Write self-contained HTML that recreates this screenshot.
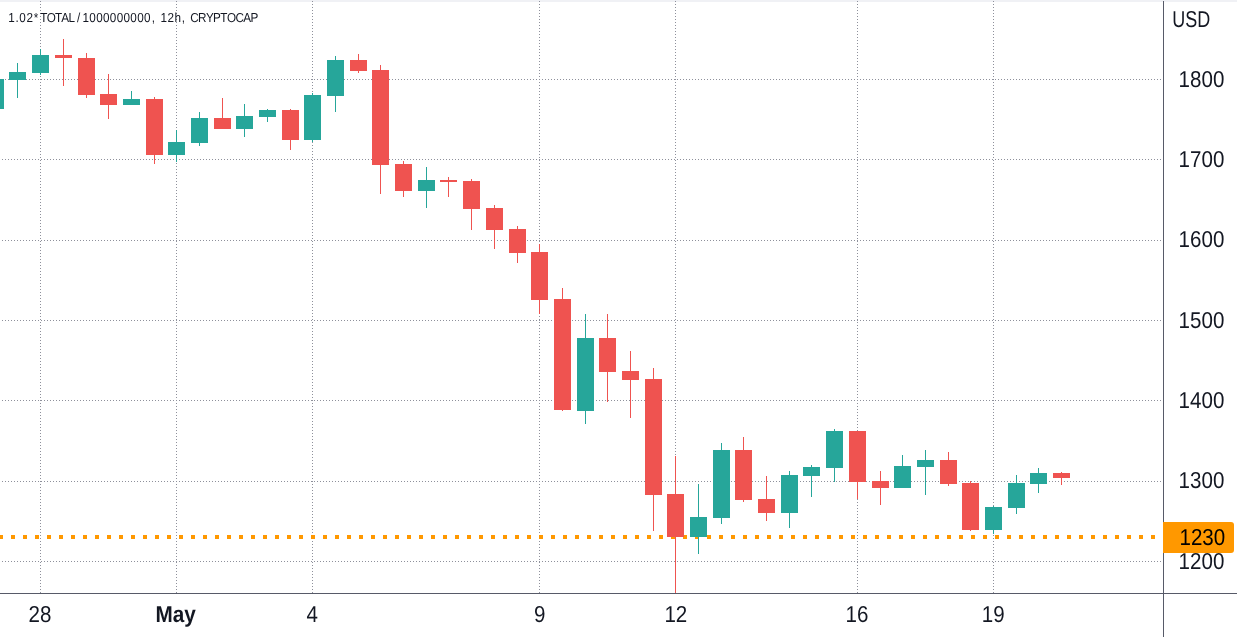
<!DOCTYPE html>
<html><head><meta charset="utf-8"><title>chart</title>
<style>
html,body{margin:0;padding:0;background:#fff;}
body{width:1237px;height:637px;overflow:hidden;}
svg{display:block;}
text{font-family:"Liberation Sans",sans-serif;fill:#131722;text-rendering:geometricPrecision;}
</style></head><body>
<svg width="1237" height="637" viewBox="0 0 1237 637">
<rect x="0" y="0" width="1237" height="637" fill="#ffffff"/>
<rect x="0" y="0" width="1237" height="2" fill="#f0f1f5" shape-rendering="crispEdges"/>
<g stroke="#8e909b" stroke-width="1" stroke-dasharray="1 2" shape-rendering="crispEdges" fill="none">
<line x1="2" y1="79.5" x2="1162" y2="79.5"/>
<line x1="2" y1="159.5" x2="1162" y2="159.5"/>
<line x1="2" y1="240.5" x2="1162" y2="240.5"/>
<line x1="2" y1="320.5" x2="1162" y2="320.5"/>
<line x1="2" y1="400.5" x2="1162" y2="400.5"/>
<line x1="2" y1="481.5" x2="1162" y2="481.5"/>
<line x1="2" y1="561.5" x2="1162" y2="561.5"/>
<line x1="40.5" y1="1" x2="40.5" y2="593"/>
<line x1="176.5" y1="1" x2="176.5" y2="593"/>
<line x1="312.5" y1="1" x2="312.5" y2="593"/>
<line x1="539.5" y1="1" x2="539.5" y2="593"/>
<line x1="675.5" y1="1" x2="675.5" y2="593"/>
<line x1="857.5" y1="1" x2="857.5" y2="593"/>
<line x1="993.5" y1="1" x2="993.5" y2="593"/>
</g>
<line x1="-1" y1="537" x2="1160" y2="537" stroke="#ff9800" stroke-width="4" stroke-dasharray="4 8" shape-rendering="crispEdges"/>
<g shape-rendering="crispEdges">
<rect x="-13" y="79" width="17" height="30" fill="#26a69a"/>
<rect x="17" y="63" width="1" height="35" fill="#26a69a"/><rect x="9" y="72" width="17" height="8" fill="#26a69a"/>
<rect x="40" y="49" width="1" height="26" fill="#26a69a"/><rect x="32" y="55" width="17" height="18" fill="#26a69a"/>
<rect x="63" y="39" width="1" height="47" fill="#ef5350"/><rect x="55" y="55" width="17" height="3" fill="#ef5350"/>
<rect x="86" y="53" width="1" height="45" fill="#ef5350"/><rect x="78" y="58" width="17" height="37" fill="#ef5350"/>
<rect x="108" y="74" width="1" height="45" fill="#ef5350"/><rect x="100" y="94" width="17" height="11" fill="#ef5350"/>
<rect x="131" y="91" width="1" height="14" fill="#26a69a"/><rect x="123" y="99" width="17" height="6" fill="#26a69a"/>
<rect x="154" y="97" width="1" height="67" fill="#ef5350"/><rect x="146" y="99" width="17" height="56" fill="#ef5350"/>
<rect x="176" y="130" width="1" height="32" fill="#26a69a"/><rect x="168" y="142" width="17" height="13" fill="#26a69a"/>
<rect x="199" y="112" width="1" height="34" fill="#26a69a"/><rect x="191" y="118" width="17" height="25" fill="#26a69a"/>
<rect x="222" y="98" width="1" height="31" fill="#ef5350"/><rect x="214" y="118" width="17" height="11" fill="#ef5350"/>
<rect x="244" y="104" width="1" height="33" fill="#26a69a"/><rect x="236" y="116" width="17" height="13" fill="#26a69a"/>
<rect x="267" y="109" width="1" height="13" fill="#26a69a"/><rect x="259" y="110" width="17" height="7" fill="#26a69a"/>
<rect x="290" y="109" width="1" height="41" fill="#ef5350"/><rect x="282" y="110" width="17" height="30" fill="#ef5350"/>
<rect x="312" y="93" width="1" height="49" fill="#26a69a"/><rect x="304" y="95" width="17" height="45" fill="#26a69a"/>
<rect x="335" y="56" width="1" height="56" fill="#26a69a"/><rect x="327" y="60" width="17" height="36" fill="#26a69a"/>
<rect x="358" y="54" width="1" height="19" fill="#ef5350"/><rect x="350" y="60" width="17" height="11" fill="#ef5350"/>
<rect x="380" y="65" width="1" height="129" fill="#ef5350"/><rect x="372" y="70" width="17" height="95" fill="#ef5350"/>
<rect x="403" y="161" width="1" height="36" fill="#ef5350"/><rect x="395" y="164" width="17" height="27" fill="#ef5350"/>
<rect x="426" y="167" width="1" height="41" fill="#26a69a"/><rect x="418" y="180" width="17" height="11" fill="#26a69a"/>
<rect x="448" y="177" width="1" height="20" fill="#ef5350"/><rect x="440" y="180" width="17" height="2" fill="#ef5350"/>
<rect x="471" y="179" width="1" height="51" fill="#ef5350"/><rect x="463" y="181" width="17" height="28" fill="#ef5350"/>
<rect x="494" y="205" width="1" height="44" fill="#ef5350"/><rect x="486" y="208" width="17" height="22" fill="#ef5350"/>
<rect x="517" y="226" width="1" height="37" fill="#ef5350"/><rect x="509" y="229" width="17" height="24" fill="#ef5350"/>
<rect x="539" y="244" width="1" height="70" fill="#ef5350"/><rect x="531" y="252" width="17" height="48" fill="#ef5350"/>
<rect x="562" y="288" width="1" height="123" fill="#ef5350"/><rect x="554" y="299" width="17" height="111" fill="#ef5350"/>
<rect x="585" y="314" width="1" height="110" fill="#26a69a"/><rect x="577" y="338" width="17" height="73" fill="#26a69a"/>
<rect x="607" y="314" width="1" height="88" fill="#ef5350"/><rect x="599" y="338" width="17" height="34" fill="#ef5350"/>
<rect x="630" y="351" width="1" height="67" fill="#ef5350"/><rect x="622" y="371" width="17" height="9" fill="#ef5350"/>
<rect x="653" y="368" width="1" height="163" fill="#ef5350"/><rect x="645" y="379" width="17" height="116" fill="#ef5350"/>
<rect x="675" y="456" width="1" height="137" fill="#ef5350"/><rect x="667" y="494" width="17" height="43" fill="#ef5350"/>
<rect x="698" y="484" width="1" height="70" fill="#26a69a"/><rect x="690" y="517" width="17" height="20" fill="#26a69a"/>
<rect x="721" y="443" width="1" height="81" fill="#26a69a"/><rect x="713" y="450" width="17" height="68" fill="#26a69a"/>
<rect x="743" y="437" width="1" height="65" fill="#ef5350"/><rect x="735" y="450" width="17" height="50" fill="#ef5350"/>
<rect x="766" y="476" width="1" height="45" fill="#ef5350"/><rect x="758" y="499" width="17" height="14" fill="#ef5350"/>
<rect x="789" y="471" width="1" height="57" fill="#26a69a"/><rect x="781" y="475" width="17" height="38" fill="#26a69a"/>
<rect x="811" y="465" width="1" height="32" fill="#26a69a"/><rect x="803" y="467" width="17" height="9" fill="#26a69a"/>
<rect x="834" y="429" width="1" height="53" fill="#26a69a"/><rect x="826" y="431" width="17" height="37" fill="#26a69a"/>
<rect x="857" y="431" width="1" height="68" fill="#ef5350"/><rect x="849" y="431" width="17" height="51" fill="#ef5350"/>
<rect x="880" y="471" width="1" height="34" fill="#ef5350"/><rect x="872" y="481" width="17" height="7" fill="#ef5350"/>
<rect x="902" y="455" width="1" height="33" fill="#26a69a"/><rect x="894" y="466" width="17" height="22" fill="#26a69a"/>
<rect x="925" y="450" width="1" height="45" fill="#26a69a"/><rect x="917" y="460" width="17" height="7" fill="#26a69a"/>
<rect x="948" y="452" width="1" height="34" fill="#ef5350"/><rect x="940" y="460" width="17" height="24" fill="#ef5350"/>
<rect x="970" y="481" width="1" height="50" fill="#ef5350"/><rect x="962" y="483" width="17" height="47" fill="#ef5350"/>
<rect x="993" y="506" width="1" height="28" fill="#26a69a"/><rect x="985" y="507" width="17" height="23" fill="#26a69a"/>
<rect x="1016" y="475" width="1" height="39" fill="#26a69a"/><rect x="1008" y="483" width="17" height="25" fill="#26a69a"/>
<rect x="1038" y="468" width="1" height="25" fill="#26a69a"/><rect x="1030" y="473" width="17" height="11" fill="#26a69a"/>
<rect x="1061" y="472" width="1" height="13" fill="#ef5350"/><rect x="1053" y="473" width="17" height="5" fill="#ef5350"/>
</g>
<g shape-rendering="crispEdges" fill="#575a68">
<rect x="0" y="593" width="1237" height="1"/>
<rect x="1163" y="1" width="1" height="636"/>
</g>
<path d="M1163 522 H1231 a3 3 0 0 1 3 3 V550 a3 3 0 0 1 -3 3 H1163 Z" fill="#ff9800"/>
<text transform="translate(0,22) scale(0.900,1)" font-size="13" x="9.17 17.30 21.37 29.50 37.44 44.69 51.87 61.00 68.17 76.00 85.52 91.61 99.21 106.82 114.42 122.02 129.63 137.23 144.84 152.44 160.04 168.57 172.18 178.39 186.07 193.75 201.90 205.51 211.32 220.03 228.75 236.80 244.85 252.22 261.61 270.32 278.37">1.02*TOTAL/1000000000, 12h, CRYPTOCAP</text>
<text transform="translate(1172.13,26.75) scale(0.7825,1)" font-size="23">USD</text>
<text transform="translate(1178.61,87.00) scale(0.8938,1)" font-size="23">1800</text>
<text transform="translate(1178.61,167.00) scale(0.8938,1)" font-size="23">1700</text>
<text transform="translate(1178.61,247.00) scale(0.8938,1)" font-size="23">1600</text>
<text transform="translate(1178.61,328.00) scale(0.8938,1)" font-size="23">1500</text>
<text transform="translate(1178.61,408.00) scale(0.8938,1)" font-size="23">1400</text>
<text transform="translate(1178.61,488.00) scale(0.8938,1)" font-size="23">1300</text>
<text transform="translate(1178.61,569.00) scale(0.8938,1)" font-size="23">1200</text>
<text transform="translate(1179.46,545.00) scale(0.8938,1)" font-size="23" style="fill:#000000">1230</text>
<text transform="translate(28.59,622.00) scale(0.8940,1)" font-size="23">28</text>
<text transform="translate(155.42,622.00) scale(0.9009,1)" font-size="23" font-weight="bold">May</text>
<text transform="translate(306.56,622.00) scale(0.8940,1)" font-size="23">4</text>
<text transform="translate(533.94,622.00) scale(0.8940,1)" font-size="23">9</text>
<text transform="translate(664.42,622.00) scale(0.8940,1)" font-size="23">12</text>
<text transform="translate(845.57,622.00) scale(0.8940,1)" font-size="23">16</text>
<text transform="translate(981.87,622.00) scale(0.8940,1)" font-size="23">19</text>
</svg>
</body></html>
